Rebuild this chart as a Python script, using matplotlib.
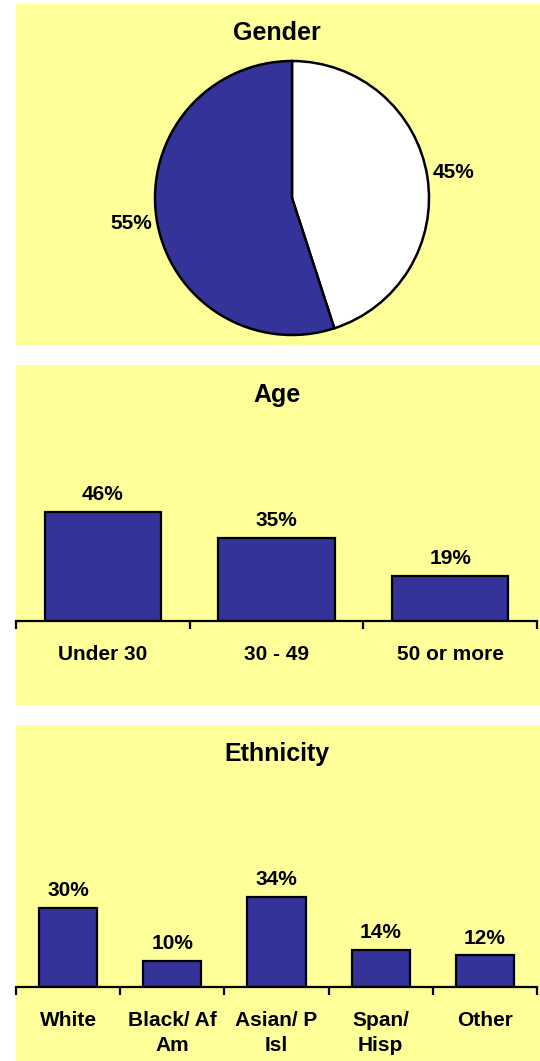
#!/usr/bin/env python3
#
# demographics panels: gender pie, age bars, ethnicity bars
#

import numpy as np
import matplotlib
matplotlib.use("Agg")
import matplotlib.pyplot as plt
from matplotlib.patches import Rectangle

gender_labels = ['Female', 'Male']
gender_pct = [45, 55]

age_cats = ['Under 30', '30 - 49', '50 or more']
age_pct = [46, 35, 19]

eth_cats = ['White', 'Black/ Af\nAm', 'Asian/ P\nIsl', 'Span/\nHisp', 'Other']
eth_pct = [30, 10, 34, 14, 12]

W, H = 540, 1061
yellow = '#FFFF99'
navy = '#333399'
fs = 15  # labels / values

plt.rcParams['font.family'] = ['Liberation Sans', 'DejaVu Sans']
plt.rcParams['font.weight'] = 'bold'

fig = plt.figure(figsize=(W / 100, H / 100), dpi=100)
fig.patch.set_facecolor('white')

def fx(px):
    return px / W

def fy(py):
    return 1 - py / H

def px_axes(left, top, right, bottom):
    # axes from pixel box (y measured from top of image)
    return fig.add_axes([fx(left), fy(bottom), (right - left) / W, (bottom - top) / H])

# yellow panel backgrounds
for (l, t, r, b) in [(16, 4, 540, 345), (16, 365, 540, 705), (16, 725, 540, 1061)]:
    fig.patches.append(Rectangle((fx(l), fy(b)), (r - l) / W, (b - t) / H,
                                 transform=fig.transFigure, facecolor=yellow,
                                 edgecolor='none', zorder=-10))

title_kw = dict(ha='center', va='center', fontsize=18, fontweight='bold')
fig.text(fx(277), fy(33), 'Gender', **title_kw)
fig.text(fx(277), fy(395), 'Age', **title_kw)
fig.text(fx(277), fy(754), 'Ethnicity', **title_kw)

# --- gender pie ---
cx, cy, r = 292, 198, 137
pad = 12
ax = px_axes(cx - r - pad, cy - r - pad, cx + r + pad, cy + r + pad)
ax.pie(gender_pct, colors=['white', navy], startangle=90, counterclock=False,
       autopct='%d%%', pctdistance=1.19,
       wedgeprops=dict(edgecolor='black', linewidth=1.8),
       textprops=dict(fontsize=fs, fontweight='bold'))
lim = (r + pad) / r
ax.set_xlim(-lim, lim)
ax.set_ylim(-lim, lim)
ax.set_facecolor('none')

def bar_panel(cats, vals, left, right, base, ppu, top, width):
    ax = px_axes(left, top, right, base)
    ax.set_facecolor('none')
    n = len(cats)
    x = np.arange(n)
    bars = ax.bar(x, vals, width=width, color=navy, edgecolor='black', linewidth=1.6,
                  zorder=3)
    ax.set_xlim(-0.5, n - 0.5)
    ax.set_ylim(0, (base - top) / ppu)
    for b, v in zip(bars, vals):
        ax.annotate('%d%%' % v, (b.get_x() + b.get_width() / 2, v),
                    xytext=(0, 8.5), textcoords='offset points',
                    ha='center', va='baseline', fontsize=fs, fontweight='bold')
    for s in ['left', 'right', 'top']:
        ax.spines[s].set_visible(False)
    ax.spines['bottom'].set_linewidth(1.6)
    ax.spines['bottom'].set_zorder(4)
    ax.set_yticks([])
    ax.set_xticks(x)
    ax.set_xticklabels(cats, fontsize=fs, fontweight='bold', linespacing=1.45)
    ax.set_xticks(np.arange(n + 1) - 0.5, minor=True)
    ax.tick_params(axis='x', which='major', length=0, pad=17)
    ax.tick_params(axis='x', which='minor', length=6, width=1.6, direction='out')
    return ax

bar_panel(age_cats, age_pct, 16, 537, 621, 2.37, 470, 0.67)
bar_panel(eth_cats, eth_pct, 16, 537, 987, 2.64, 830, 0.56)

plt.savefig('out.png', dpi=100, facecolor='white')
